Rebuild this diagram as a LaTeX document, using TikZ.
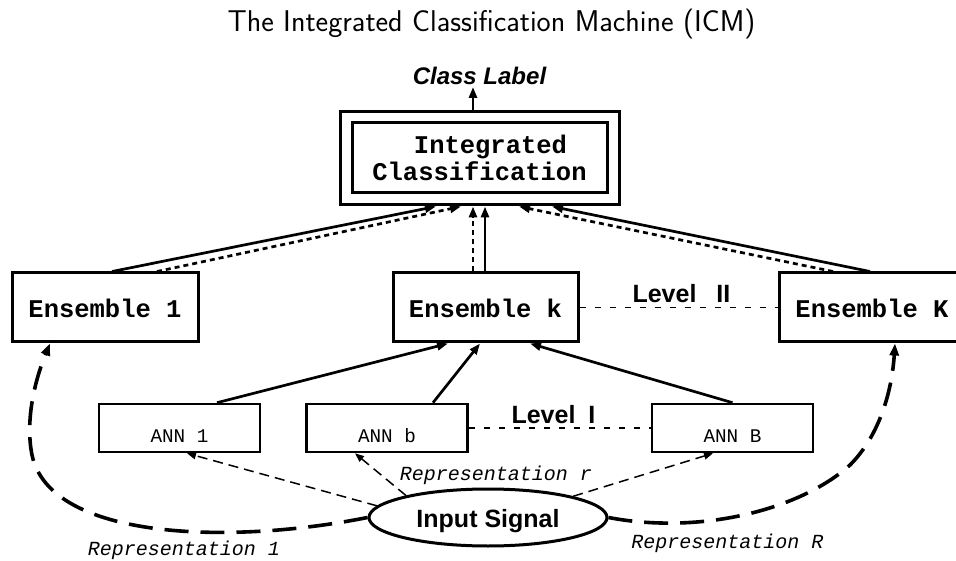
\documentclass[tikz,border=0pt]{standalone}
\usepackage{fontspec}
\newfontfamily\monof{Liberation Mono}
\newfontfamily\helv{Liberation Sans}
\usetikzlibrary{arrows.meta,calc,shapes.geometric}
\begin{document}
\begin{tikzpicture}[x=1pt,y=-1pt,
  ensfont/.style={font=\monof\bfseries\fontsize{25.5}{27}\selectfont},
  annfont/.style={font=\monof\fontsize{19.3}{21}\selectfont},
  repfont/.style={font=\monof\itshape\fontsize{20}{22}\selectfont},
  labfont/.style={font=\helv\bfseries\fontsize{25}{27}\selectfont},
  ensbox/.style={draw,line width=3pt,inner sep=0pt,minimum height=69pt,ensfont,text height=21pt,text depth=0pt},
  annbox/.style={draw,line width=2.6pt,inner sep=0pt,minimum width=161pt,minimum height=48pt,annfont,text height=28pt,text depth=0pt},
  arrowtip/.style={-{Triangle[length=11pt,width=8pt]}},
  solidarr/.style={line width=2.7pt,arrowtip},
  dasharr/.style={line width=2.7pt,dash pattern=on 5pt off 4pt,arrowtip},
  thindash/.style={line width=1.2pt,dash pattern=on 6pt off 9pt},
  repdash/.style={line width=1.5pt,dash pattern=on 10pt off 6pt,-{Triangle[length=9pt,width=7pt]}},
  bigdash/.style={line width=3.6pt,dash pattern=on 24pt off 12pt,-{Triangle[length=12pt,width=9pt]}}
]
\useasboundingbox (0,0) rectangle (956,561);

\node[anchor=base,font=\sffamily\fontsize{30}{32}\selectfont] (title) at (491.5,32) {The Integrated Classification Machine (ICM)};
\node[anchor=base,font=\helv\bfseries\itshape\fontsize{24}{26}\selectfont] (cls) at (479.5,85) {Class Label};

\node[draw,line width=3pt,minimum width=279pt,minimum height=93pt] (intO) at (479.5,158.5) {};
\node[draw,line width=3pt,minimum width=255pt,minimum height=70pt,inner sep=0pt,align=center,ensfont] (int) at (479.5,158) {\hspace*{22pt}Integrated\\Classification};

\draw[solidarr] ($(intO.north)+(-6.5,0)$) -- ($(cls.base)+(-6.5,2)$);

\node[ensbox,minimum width=186pt] (ens1) at (105,307.5) {Ensemble 1};
\node[ensbox,minimum width=185pt] (ensk) at (485.5,307.5) {Ensemble k};
\node[ensbox,minimum width=186pt] (ensK) at (872,307.5) {Ensemble K};

\draw[solidarr] ($(ens1.north)+(7,0)$) -- ($(intO.south)+(-43.5,0)$);
\draw[dasharr] ($(ens1.north)+(52,0)$) -- ($(intO.south)+(-18.5,0)$);
\draw[dasharr] ($(ensk.north)+(-12.5,0)$) -- ($(intO.south)+(-6.5,0)$);
\draw[solidarr] ($(ensk.north)+(-0.5,0)$) -- ($(intO.south)+(5.5,0)$);
\draw[dasharr] ($(ensK.north)+(-39,0)$) -- ($(intO.south)+(39.5,0)$);
\draw[solidarr] ($(ensK.north)+(-2,0)$) -- ($(intO.south)+(72.5,0)$);

\draw[thindash] (ensk.east) -- (ensK.west);
\node[anchor=base west,labfont] (lv2) at (629,303) {Level\hspace{20pt}II};

\node[annbox] (ann1) at (179.5,428) {ANN 1};
\node[annbox] (annb) at (387,428) {ANN b};
\node[annbox] (annB) at (732.5,428) {ANN B};

\draw[thindash] (annb.east) -- (annB.west);
\node[anchor=base west,labfont] (lv1) at (508,423) {Level\hspace{13pt}I};

\draw[solidarr] ($(ann1.north)+(37.5,0)$) -- ($(ensk.south)+(-37.5,0)$);
\draw[solidarr] ($(annb.north)+(46,0)$) -- ($(ensk.south)+(-5.5,0)$);
\draw[solidarr] (annB.north) -- ($(ensk.south)+(44.5,0)$);

\node[draw,ellipse,line width=3pt,minimum width=238pt,minimum height=57pt,inner sep=0pt,labfont,text height=19pt,text depth=0pt] (input) at (488,517.5) {Input Signal};

\draw[repdash] (input.174) -- ($(ann1.south)+(7.5,0)$);
\draw[repdash] (input.165) -- ($(annb.south)+(-32,0)$);
\draw[repdash] (input.14) -- ($(annB.south)+(-19.5,0)$);

\draw[bigdash] (input.west) .. controls (230,545) and (50,540) .. (32,455) .. controls (25,420) and (35,380) .. ($(ens1.south)+(-55,0)$);
\draw[bigdash] (input.east) .. controls (700,535) and (800,510) .. (850,465) .. controls (880,435) and (892,390) .. ($(ensK.south)+(23,0)$);

\node[repfont,anchor=base] (rep1) at (184,555) {Representation 1};
\node[repfont,anchor=base] (repr) at (496,480) {Representation r};
\node[repfont,anchor=base] (repR) at (727.5,548) {Representation R};
\end{tikzpicture}
\end{document}
